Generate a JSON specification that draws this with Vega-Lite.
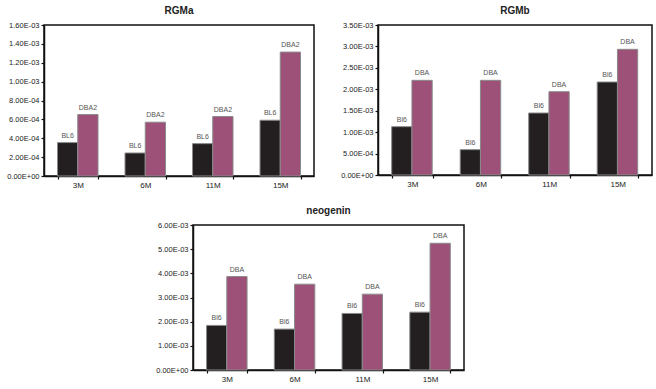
{
  "$schema": "https://vega.github.io/schema/vega-lite/v6.json",
  "padding": {"left": 5, "top": 5, "right": 2, "bottom": 2},
  "background": "white",
  "datasets": {
    "rgma": [
      {"age": "3M", "strain": "B6", "label": "BL6", "value": 0.000354},
      {"age": "3M", "strain": "DBA", "label": "DBA2", "value": 0.000651},
      {"age": "6M", "strain": "B6", "label": "BL6", "value": 0.000244},
      {"age": "6M", "strain": "DBA", "label": "DBA2", "value": 0.000570},
      {"age": "11M", "strain": "B6", "label": "BL6", "value": 0.000343},
      {"age": "11M", "strain": "DBA", "label": "DBA2", "value": 0.000630},
      {"age": "15M", "strain": "B6", "label": "BL6", "value": 0.000591},
      {"age": "15M", "strain": "DBA", "label": "DBA2", "value": 0.001313}
    ],
    "rgmb": [
      {"age": "3M", "strain": "B6", "label": "Bl6", "value": 0.001128},
      {"age": "3M", "strain": "DBA", "label": "DBA", "value": 0.002209},
      {"age": "6M", "strain": "B6", "label": "Bl6", "value": 0.000591},
      {"age": "6M", "strain": "DBA", "label": "DBA", "value": 0.002209},
      {"age": "11M", "strain": "B6", "label": "Bl6", "value": 0.001447},
      {"age": "11M", "strain": "DBA", "label": "DBA", "value": 0.001944},
      {"age": "15M", "strain": "B6", "label": "Bl6", "value": 0.002170},
      {"age": "15M", "strain": "DBA", "label": "DBA", "value": 0.002932}
    ],
    "neogenin": [
      {"age": "3M", "strain": "B6", "label": "Bl6", "value": 0.001844},
      {"age": "3M", "strain": "DBA", "label": "DBA", "value": 0.003867},
      {"age": "6M", "strain": "B6", "label": "Bl6", "value": 0.001693},
      {"age": "6M", "strain": "DBA", "label": "DBA", "value": 0.003550},
      {"age": "11M", "strain": "B6", "label": "Bl6", "value": 0.002340},
      {"age": "11M", "strain": "DBA", "label": "DBA", "value": 0.003138},
      {"age": "15M", "strain": "B6", "label": "Bl6", "value": 0.002394},
      {"age": "15M", "strain": "DBA", "label": "DBA", "value": 0.005243}
    ]
  },
  "vconcat": [
    {
      "hconcat": [
        {
          "title": "RGMa",
          "width": 270, "height": 151,
          "data": {"name": "rgma"},
          "encoding": {
            "x": {"field": "age", "type": "nominal", "sort": ["3M", "6M", "11M", "15M"], "scale": {"paddingInner": 0.4, "paddingOuter": 0.2}},
            "xOffset": {"field": "strain", "type": "nominal", "sort": ["B6", "DBA"]},
            "y": {"field": "value", "type": "quantitative", "scale": {"domain": [0, 0.0016], "nice": false}, "axis": {"values": [0, 0.0002, 0.0004, 0.0006, 0.0008, 0.001, 0.0012, 0.0014, 0.0016]}}
          },
          "layer": [
            {"mark": {"type": "bar", "stroke": "#8a8a8a", "strokeWidth": 1}, "encoding": {"color": {"field": "strain", "type": "nominal", "scale": {"domain": ["B6", "DBA"], "range": ["#231f20", "#9e5178"]}, "legend": null}}},
            {"mark": {"type": "text", "baseline": "bottom", "dy": -4, "fontSize": 7, "color": "#555", "font": "Liberation Sans"}, "encoding": {"text": {"field": "label"}}}
          ]
        },
        {
          "title": "RGMb",
          "width": 274, "height": 150,
          "data": {"name": "rgmb"},
          "encoding": {
            "x": {"field": "age", "type": "nominal", "sort": ["3M", "6M", "11M", "15M"], "scale": {"paddingInner": 0.4, "paddingOuter": 0.2}},
            "xOffset": {"field": "strain", "type": "nominal", "sort": ["B6", "DBA"]},
            "y": {"field": "value", "type": "quantitative", "scale": {"domain": [0, 0.0035], "nice": false}, "axis": {"values": [0, 0.0005, 0.001, 0.0015, 0.002, 0.0025, 0.003, 0.0035]}}
          },
          "layer": [
            {"mark": {"type": "bar", "stroke": "#8a8a8a", "strokeWidth": 1}, "encoding": {"color": {"field": "strain", "type": "nominal", "scale": {"domain": ["B6", "DBA"], "range": ["#231f20", "#9e5178"]}, "legend": null}}},
            {"mark": {"type": "text", "baseline": "bottom", "dy": -4, "fontSize": 7, "color": "#555", "font": "Liberation Sans"}, "encoding": {"text": {"field": "label"}}}
          ]
        }
      ],
      "spacing": 24
    },
    {
      "hconcat": [
        {
          "width": 100, "height": 10,
          "data": {"values": [{}]},
          "mark": {"type": "point", "opacity": 0},
          "encoding": {},
          "view": {"stroke": null}
        },
        {
          "title": "neogenin",
          "width": 271, "height": 145,
          "data": {"name": "neogenin"},
          "encoding": {
            "x": {"field": "age", "type": "nominal", "sort": ["3M", "6M", "11M", "15M"], "scale": {"paddingInner": 0.4, "paddingOuter": 0.2}},
            "xOffset": {"field": "strain", "type": "nominal", "sort": ["B6", "DBA"]},
            "y": {"field": "value", "type": "quantitative", "scale": {"domain": [0, 0.006], "nice": false}, "axis": {"values": [0, 0.001, 0.002, 0.003, 0.004, 0.005, 0.006]}}
          },
          "layer": [
            {"mark": {"type": "bar", "stroke": "#8a8a8a", "strokeWidth": 1}, "encoding": {"color": {"field": "strain", "type": "nominal", "scale": {"domain": ["B6", "DBA"], "range": ["#231f20", "#9e5178"]}, "legend": null}}},
            {"mark": {"type": "text", "baseline": "bottom", "dy": -4, "fontSize": 7, "color": "#555", "font": "Liberation Sans"}, "encoding": {"text": {"field": "label"}}}
          ]
        }
      ],
      "spacing": 10
    }
  ],
  "spacing": 15,
  "config": {
    "view": {"stroke": "#111", "strokeWidth": 1.5},
    "title": {"font": "Liberation Sans", "fontSize": 10, "fontWeight": "bold", "color": "#222", "offset": 5},
    "axis": {
      "title": null,
      "grid": false,
      "domainColor": "#111",
      "domainWidth": 1.5,
      "tickColor": "#111",
      "tickWidth": 1.2,
      "labelFont": "Liberation Sans",
      "labelColor": "#222",
      "labelFontSize": 7.5
    },
    "axisX": {"labelAngle": 0, "tickBand": "extent", "tickSize": 3, "labelPadding": 2, "labelFontSize": 8},
    "axisY": {"tickSize": 3, "labelPadding": 2, "labelExpr": "replace(replace(upper(format(datum.value, '.2e')), 'E-', 'E-0'), 'E+', 'E+0')"}
  }
}
